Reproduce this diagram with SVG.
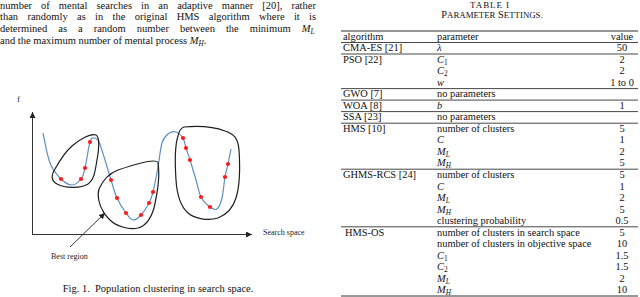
<svg xmlns="http://www.w3.org/2000/svg" width="640" height="297" viewBox="0 0 640 297">
<style>
text{font-family:"Liberation Serif","Times New Roman",serif;fill:#111}
.body{font-size:10.5px}
.tb{font-size:10.4px}
.it{font-style:italic}
.sub{font-size:7.3px;font-style:italic}
.subn{font-size:7.3px}
.v{text-anchor:middle}
.rule{stroke:#333;stroke-width:0.9}
.rule.heavy{stroke-width:1.2}
.axis{stroke:#333;stroke-width:1;fill:none}
.clu{stroke:#1e1e1e;stroke-width:1.2;fill:none}
.curve{stroke:#5f8fc0;stroke-width:1.2;fill:none}
.pt{fill:#ff1a1a}
.lbl{font-size:8px;fill:#222}
</style>
<defs>
<marker id="ah" viewBox="0 0 8 8" refX="8" refY="4" markerWidth="6" markerHeight="6" orient="auto" markerUnits="userSpaceOnUse"><path d="M0,0 L8,4 L0,8 z" fill="#222"/></marker>
</defs>
<rect width="640" height="297" fill="#fff"/>

<g id="body-text" class="body">
<text x="0" y="8.5" word-spacing="6.4">number of mental searches in an adaptive manner [20], rather</text>
<text x="0" y="20.3" word-spacing="6.7">than randomly as in the original HMS algorithm where it is</text>
<text x="0" y="32.1" word-spacing="8.4">determined as a random number between the minimum <tspan class="it">M</tspan><tspan class="sub" dy="2">L</tspan></text>
<text x="0" y="43.9">and the maximum number of mental process <tspan class="it">M</tspan><tspan class="sub" dy="2">H</tspan><tspan dy="-2">.</tspan></text>
</g>

<g id="figure">
<text class="lbl" x="17" y="102" style="font-size:9px">f</text>
<g id="connectors">
<line class="axis" x1="32.5" y1="234.5" x2="32.5" y2="112" marker-end="url(#ah)"/>
<line class="axis" x1="32" y1="234.5" x2="252" y2="234.5" marker-end="url(#ah)"/>
<line class="axis" x1="70" y1="247" x2="105" y2="213" marker-end="url(#ah)"/>
</g>
<path id="objective-curve" class="curve" d="M43,133 C44.2,138 47,155.3 50,163 C53,170.7 57.3,175.3 61,179 C64.7,182.7 68.7,185 72,185 C75.3,185 78.8,181.8 81,179 C83.2,176.2 83.5,174.2 85,168 C86.5,161.8 88.5,147 90,142 C91.5,137 92.5,138 94,138 C95.5,138 97.2,138.3 99,142 C100.8,145.7 103,153.7 105,160 C107,166.3 109,173.7 111,180 C113,186.3 114.5,192.5 117,198 C119.5,203.5 123.3,209.3 126,213 C128.7,216.7 130.5,219.7 133,220 C135.5,220.3 138.3,217.8 141,215 C143.7,212.2 147,206.8 149,203 C151,199.2 151.5,198 153,192 C154.5,186 156.5,175.2 158,167 C159.5,158.8 160.3,148.5 162,143 C163.7,137.5 165.7,135.8 168,134 C170.3,132.2 173.5,131.3 176,132 C178.5,132.7 181.3,135.3 183,138 C184.7,140.7 184.8,144.3 186,148 C187.2,151.7 188.3,154.7 190,160 C191.7,165.3 194.2,173.8 196,180 C197.8,186.2 198.7,192.5 201,197 C203.3,201.5 207.3,205 210,207 C212.7,209 215,210.5 217,209 C219,207.5 220.7,203.3 222,198 C223.3,192.7 224,182.7 225,177 C226,171.3 227,168.7 228,164 C229,159.3 230.5,151.5 231,149"/>
<g id="cluster-1">
<path class="clu" d="M96,135 C100,137 99,150 97,160 C95,172 94,180 88,184 C80,189 65,188 57,184 C51,181 51,175 55,169 C60,160 64,153 72,146 C79,140 90,133 96,135 Z"/>
<circle class="pt" cx="90" cy="142" r="2.1"/><circle class="pt" cx="85" cy="168" r="2.1"/><circle class="pt" cx="81" cy="179" r="2.1"/><circle class="pt" cx="61" cy="179" r="2.1"/>
</g>
<g id="cluster-2">
<path class="clu" d="M158,163 C160,175 157,195 154,208 C151,218 146,226 138,228 C128,230 116,226 110,220 C106,216 104,214 103,211 C99,205 97,195 99,189 C103,180 110,173 118,170 C130,166 145,161 153,161 C156,161 158,162 158,163 Z"/>
<circle class="pt" cx="111" cy="180" r="2.1"/><circle class="pt" cx="117" cy="198" r="2.1"/><circle class="pt" cx="126" cy="213" r="2.1"/><circle class="pt" cx="141" cy="215" r="2.1"/><circle class="pt" cx="149" cy="203" r="2.1"/><circle class="pt" cx="153" cy="192" r="2.1"/>
</g>
<g id="cluster-3">
<path class="clu" d="M184,127 C195,126 212,126 225,131 C234,134 238,138 239,150 C240,165 240,185 236,198 C233,208 228,214 218,218 C208,221 195,219 188,213 C180,206 177,195 176,180 C175,165 175,145 178,136 C179,131 181,128 184,127 Z"/>
<circle class="pt" cx="183" cy="138" r="2.1"/><circle class="pt" cx="186" cy="148" r="2.1"/><circle class="pt" cx="190" cy="160" r="2.1"/><circle class="pt" cx="201" cy="197" r="2.1"/><circle class="pt" cx="210" cy="207" r="2.1"/><circle class="pt" cx="225" cy="177" r="2.1"/><circle class="pt" cx="228" cy="164" r="2.1"/>
</g>
<text class="lbl" x="263" y="235">Search space</text>
<text class="lbl" x="51" y="259">Best region</text>
<text class="body" x="158" y="292" text-anchor="middle">Fig. 1.&#160; Population clustering in search space.</text>
</g>

<g id="table" class="tb">
<text x="490" y="7.5" text-anchor="middle" style="font-size:9px;letter-spacing:0.9px">TABLE I</text>
<text x="492" y="18" text-anchor="middle" style="font-size:10.4px">P<tspan style="font-size:8.8px">ARAMETER</tspan> S<tspan style="font-size:8.8px">ETTINGS.</tspan></text>
<g id="rules">
<line class="rule heavy" x1="341" y1="31" x2="638" y2="31"/>
<line class="rule" x1="341" y1="42.5" x2="638" y2="42.5"/>
<line class="rule" x1="341" y1="54" x2="638" y2="54"/>
<line class="rule" x1="341" y1="88.6" x2="638" y2="88.6"/>
<line class="rule" x1="341" y1="100.1" x2="638" y2="100.1"/>
<line class="rule" x1="341" y1="111.6" x2="638" y2="111.6"/>
<line class="rule" x1="341" y1="123.2" x2="638" y2="123.2"/>
<line class="rule" x1="341" y1="169.2" x2="638" y2="169.2"/>
<line class="rule" x1="341" y1="226.8" x2="638" y2="226.8"/>
<line class="rule heavy" x1="341" y1="296" x2="638" y2="296"/>
</g>
<g id="header">
<text x="343" y="39.7">algorithm</text><text x="437" y="39.7">parameter</text><text class="v" x="622" y="39.7">value</text>
</g>
<g id="row-cmaes">
<text x="343" y="51.2">CMA-ES [21]</text><text class="it" x="437" y="51.2">λ</text><text class="v" x="622" y="51.2">50</text>
</g>
<g id="row-pso">
<text x="343" y="62.7">PSO [22]</text>
<text x="437" y="62.7"><tspan class="it">C</tspan><tspan class="subn" dy="2">1</tspan></text><text class="v" x="622" y="62.7">2</text>
<text x="437" y="74.3"><tspan class="it">C</tspan><tspan class="subn" dy="2">2</tspan></text><text class="v" x="622" y="74.3">2</text>
<text class="it" x="437" y="85.8">w</text><text class="v" x="622" y="85.8">1 to 0</text>
</g>
<g id="row-gwo">
<text x="343" y="97.3">GWO [7]</text><text x="437" y="97.3">no parameters</text>
</g>
<g id="row-woa">
<text x="343" y="108.8">WOA [8]</text><text class="it" x="437" y="108.8">b</text><text class="v" x="622" y="108.8">1</text>
</g>
<g id="row-ssa">
<text x="343" y="120.3">SSA [23]</text><text x="437" y="120.3">no parameters</text>
</g>
<g id="row-hms">
<text x="343" y="131.9">HMS [10]</text>
<text x="437" y="131.9">number of clusters</text><text class="v" x="622" y="131.9">5</text>
<text class="it" x="437" y="143.4">C</text><text class="v" x="622" y="143.4">1</text>
<text x="437" y="154.9"><tspan class="it">M</tspan><tspan class="sub" dy="2">L</tspan></text><text class="v" x="622" y="154.9">2</text>
<text x="437" y="166.4"><tspan class="it">M</tspan><tspan class="sub" dy="2">H</tspan></text><text class="v" x="622" y="166.4">5</text>
</g>
<g id="row-ghms-rcs">
<text x="343" y="178">GHMS-RCS [24]</text>
<text x="437" y="178">number of clusters</text><text class="v" x="622" y="178">5</text>
<text class="it" x="437" y="189.5">C</text><text class="v" x="622" y="189.5">1</text>
<text x="437" y="201"><tspan class="it">M</tspan><tspan class="sub" dy="2">L</tspan></text><text class="v" x="622" y="201">2</text>
<text x="437" y="212.5"><tspan class="it">M</tspan><tspan class="sub" dy="2">H</tspan></text><text class="v" x="622" y="212.5">5</text>
<text x="437" y="224">clustering probability</text><text class="v" x="622" y="224">0.5</text>
</g>
<g id="row-hms-os">
<text x="345" y="235.5">HMS-OS</text>
<text x="437" y="235.5">number of clusters in search space</text><text class="v" x="622" y="235.5">5</text>
<text x="437" y="247.1">number of clusters in objective space</text><text class="v" x="622" y="247.1">10</text>
<text x="437" y="258.6"><tspan class="it">C</tspan><tspan class="subn" dy="2">1</tspan></text><text class="v" x="622" y="258.6">1.5</text>
<text x="437" y="270.1"><tspan class="it">C</tspan><tspan class="subn" dy="2">2</tspan></text><text class="v" x="622" y="270.1">1.5</text>
<text x="437" y="281.6"><tspan class="it">M</tspan><tspan class="sub" dy="2">L</tspan></text><text class="v" x="622" y="281.6">2</text>
<text x="437" y="293.1"><tspan class="it">M</tspan><tspan class="sub" dy="2">H</tspan></text><text class="v" x="622" y="293.1">10</text>
</g>
</g>
</svg>
